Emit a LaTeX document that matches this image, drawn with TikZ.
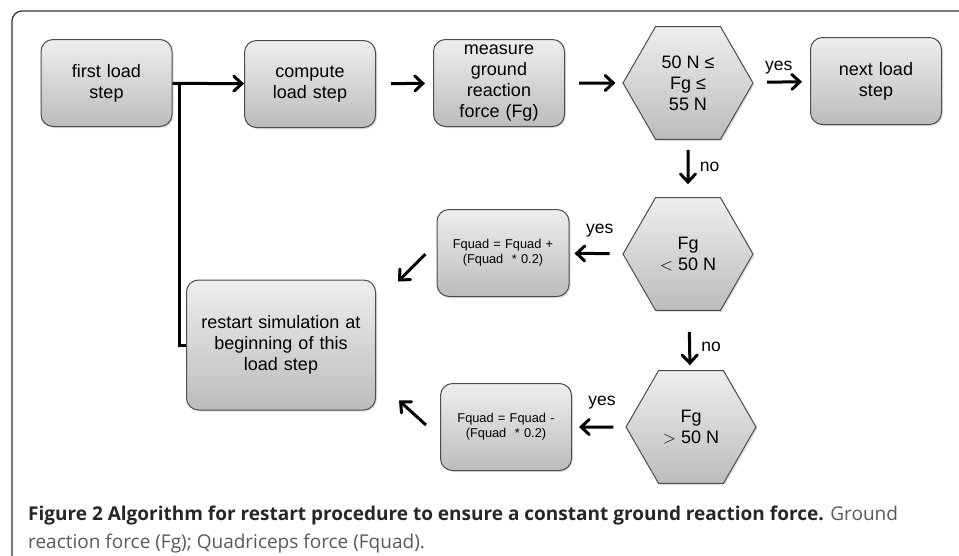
\documentclass[tikz,border=0pt]{standalone}
\usepackage{fontspec}
\setmainfont{Liberation Sans}
\newfontfamily\capfont{Open Sans}
\usepackage{tikz}
\usetikzlibrary{arrows.meta}
\usetikzlibrary{shapes.geometric}
\usetikzlibrary{shadows}
\definecolor{boxtop}{HTML}{EEEEEE}
\definecolor{boxbot}{HTML}{BCBCBC}
\tikzset{
  stepbox/.style={rectangle,rounded corners=12pt,draw=black!70,line width=1pt,
    top color=boxtop,bottom color=boxbot,minimum width=131pt,minimum height=87pt,
    text width=124pt,align=center,font=\fontsize{18}{21}\selectfont,
    drop shadow={opacity=0.25,shadow xshift=1.5pt,shadow yshift=-1.5pt}},
  smallbox/.style={stepbox,font=\fontsize{12.8}{15}\selectfont},
  testbox/.style={regular polygon,regular polygon sides=6,minimum size=130pt,inner sep=0pt,
    draw=black!70,line width=1pt,top color=boxtop,bottom color=boxbot,align=center,
    font=\fontsize{18}{21}\selectfont,
    drop shadow={opacity=0.25,shadow xshift=1.5pt,shadow yshift=-1.5pt}},
  arr/.style={line width=3pt,-{Straight Barb[length=8pt,width=15pt,line cap=round]}},
  conn/.style={line width=3pt},
  lbl/.style={font=\fontsize{17.5}{20}\selectfont}
}

\begin{document}
\begin{tikzpicture}[x=1pt,y=-1pt]
    \useasboundingbox (0,0) rectangle (959,555);
    \draw[black!80,line width=1.3pt,rounded corners=10pt] (12,600) -- (12,11) -- (1000,11);
    % top row
    \node[stepbox] (S1) at (106.5,83) {first load\\step};
    \node[stepbox] (S2) at (310,84) {compute\\load step};
    \node[stepbox] (S3) at (499,83) {measure\\ground\\reaction\\force (Fg)};
    \node[testbox] (H1) at (688,83) {50 N ≤\\Fg ≤\\55 N};
    \node[stepbox] (S4) at (876,81) {next load\\step};
    % tests below
    \node[testbox] (H2) at (688,254) {Fg\\$<$ 50 N};
    \node[testbox] (H3) at (691,427) {Fg\\$>$ 50 N};
    \node[smallbox,minimum width=132pt] (Q1) at (503,253) {Fquad = Fquad +\\(Fquad \ * 0.2)};
    \node[smallbox] (Q2) at (506,427) {Fquad = Fquad -\\(Fquad \ * 0.2)};
    \node[stepbox,minimum width=189pt,minimum height=130pt,text width=180pt] (R) at (281,345)
      {restart simulation at\\beginning of this\\load step\\[14pt]};
    % connectors
    \coordinate (J) at ([xshift=7pt]S1.east);
    \draw[conn] (J) |- (R.west);
    \path[arr] (S1) edge (S2);
    \path[arr,shorten <=15pt,shorten >=8pt] (S2) edge (S3);
    \path[arr,shorten <=14pt,shorten >=7pt] (S3) edge (H1);
    \path[arr,shorten <=14pt,shorten >=8pt] (H1) edge node[lbl,above=3pt,pos=0.45] {yes} (S4);
    \path[arr,shorten <=10pt,shorten >=13pt] (H1) edge node[lbl,right=7pt,pos=0.47] {no} (H2);
    \path[arr,shorten <=13pt,shorten >=5pt] (H2) edge node[lbl,above=12pt,pos=0.43] {yes} (Q1);
    \path[arr,shorten <=21pt,shorten >=5pt] (H2) edge node[lbl,right=7pt,pos=0.6] {no} (H3);
    \path[arr,shorten <=12pt,shorten >=7pt] (H3) edge node[lbl,above=13pt,pos=0.44] {yes} (Q2);
    \draw[arr] ([shift={(-11,1)}]Q1.west) -- ([shift={(22,2)}]R.north east);
    \draw[arr] ([shift={(-14,-2)}]Q2.west) -- ([shift={(23,-10)}]R.south east);
    % caption
    \node[anchor=base west,align=left,inner sep=0pt,text=black!65,
      font=\capfont\fontsize{19}{28}\selectfont] (cap) at (28,548)
      {\textcolor{black!85}{\textbf{Figure 2 Algorithm for restart procedure to ensure a constant ground reaction force.}} Ground\\
       reaction force (Fg); Quadriceps force (Fquad).};
\end{tikzpicture}
\end{document}
